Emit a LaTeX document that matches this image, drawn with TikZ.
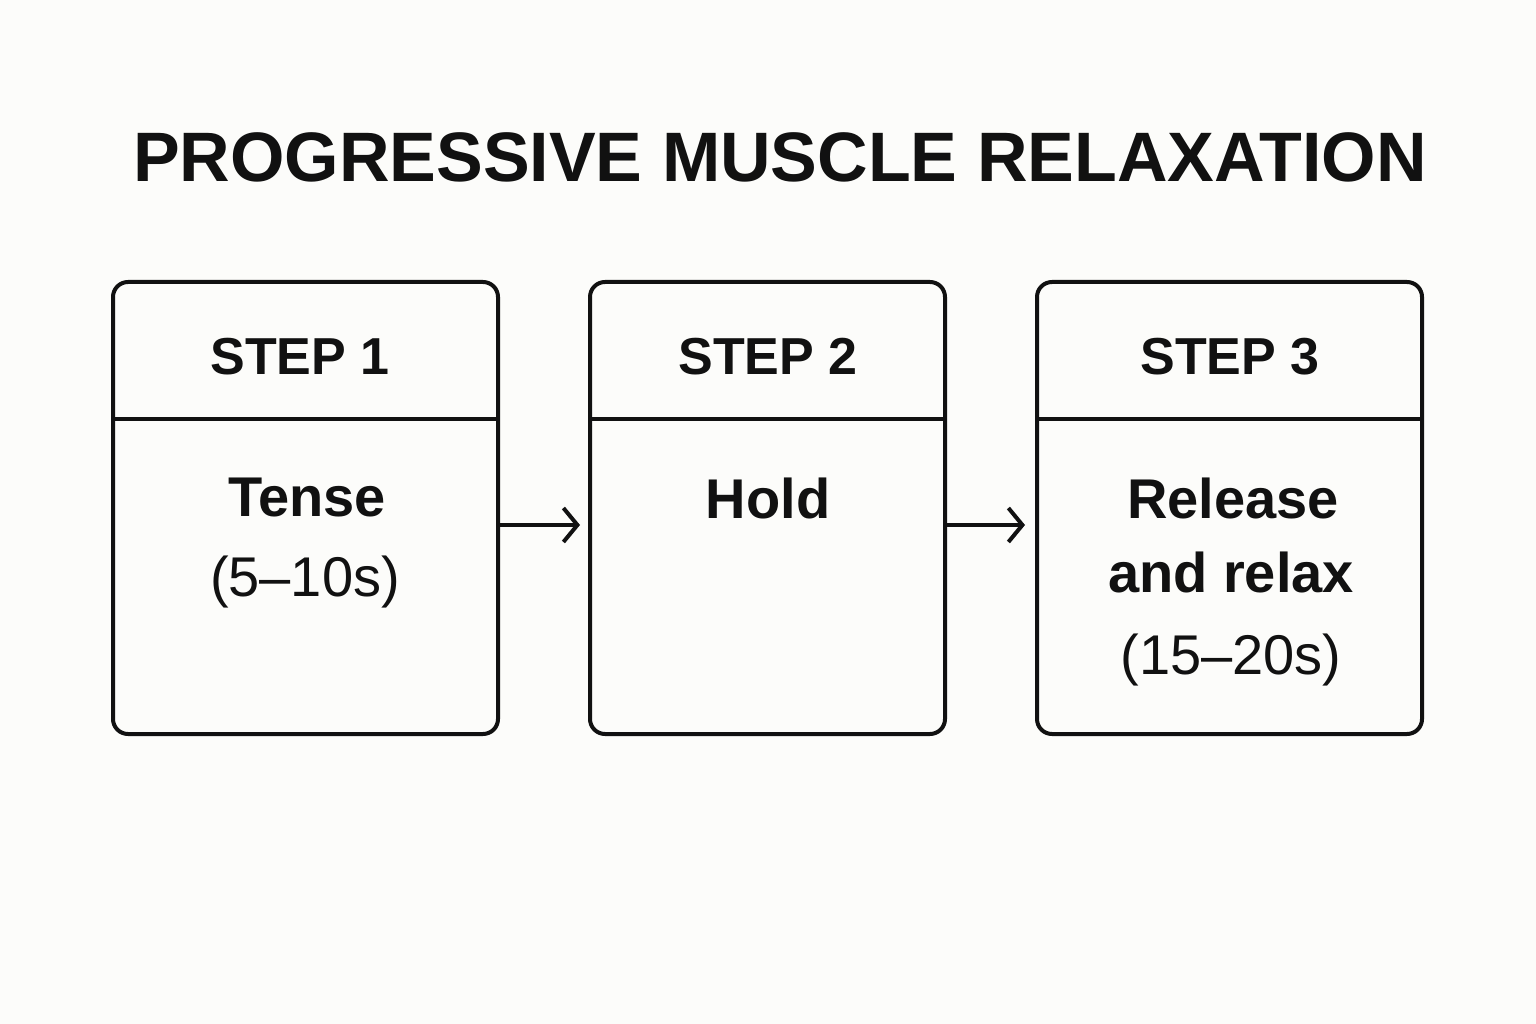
\documentclass[tikz,border=0pt]{standalone}
\usepackage{fontspec}
\setmainfont{Liberation Sans}
\usetikzlibrary{arrows.meta}
\definecolor{bg}{HTML}{FCFCFA}
\definecolor{ink}{HTML}{111111}
\begin{document}
\begin{tikzpicture}[x=1pt,y=-1pt,
  box/.style={draw=ink,line width=4pt,rounded corners=15pt},
  hdr/.style={font=\fontsize{52}{60}\selectfont\bfseries,text=ink},
  main/.style={font=\fontsize{56}{64}\selectfont\bfseries,text=ink},
  sub/.style={font=\fontsize{56}{64}\selectfont,text=ink},
  arr/.style={draw=ink,line width=4pt,-{Straight Barb[length=14pt,width=34pt,line width=4pt]}}]
\fill[bg] (0,0) rectangle (1536,1024);
\useasboundingbox (0,0) rectangle (1536,1024);
\node[font=\fontsize{70}{80}\selectfont\bfseries,text=ink] (title) at (780,157) {PROGRESSIVE MUSCLE RELAXATION};
\draw[box] (113,282) rectangle (498,734);
\draw[box] (590,282) rectangle (945,734);
\draw[box] (1037,282) rectangle (1422,734);
\draw[draw=ink,line width=4pt] (113,419) -- (498,419);
\draw[draw=ink,line width=4pt] (590,419) -- (945,419);
\draw[draw=ink,line width=4pt] (1037,419) -- (1422,419);
\coordinate (b1r) at (498,525); \coordinate (b2l) at (580,525);
\coordinate (b2r) at (945,525); \coordinate (b3l) at (1025,525);
\node[hdr] (s1) at (300,357) {STEP 1};
\node[hdr] (s2) at (768,357) {STEP 2};
\node[hdr] (s3) at (1230,357) {STEP 3};
\node[main] (t1) at (307,498) {Tense};
\node[sub] (t1b) at (305,582) {(5–10s)};
\node[main] (t2) at (768,498) {Hold};
\node[main] (t3) at (1233,498) {Release};
\node[main] (t3b) at (1231,572) {and relax};
\node[sub] (t3c) at (1231,660) {(15–20s)};
\draw[arr] (b1r) -- (b2l);
\draw[arr] (b2r) -- (b3l);
\end{tikzpicture}
\end{document}
